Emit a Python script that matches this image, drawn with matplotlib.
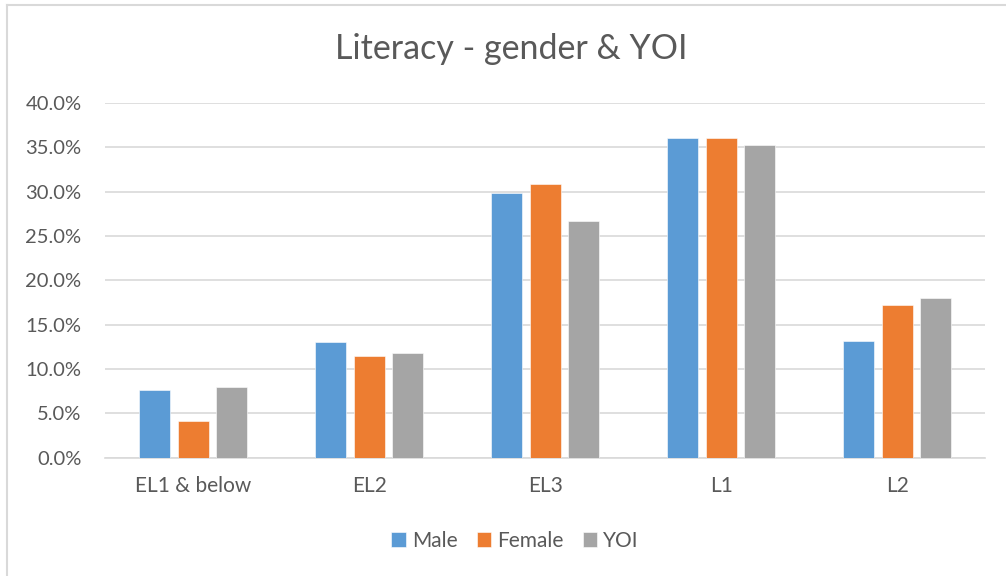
import matplotlib
matplotlib.use("Agg")
import matplotlib.pyplot as plt
import numpy as np
from matplotlib.ticker import PercentFormatter

categories = ["EL1 & below", "EL2", "EL3", "L1", "L2"]
series_names = ["Male", "Female", "YOI"]
male = [7.6, 13.0, 29.9, 36.1, 13.2]
female = [4.15, 11.5, 30.9, 36.0, 17.2]
yoi = [8.0, 11.75, 26.7, 35.3, 18.0]
colors = ["#5B9BD5", "#ED7D31", "#A5A5A5"]

plt.rcParams["font.family"] = ["Lato", "DejaVu Sans"]

fig = plt.figure(figsize=(10.06, 5.76), dpi=100)
ax = fig.add_axes([0.1044, 0.2057, 0.875, 0.6155])

x = np.arange(len(categories))
w = 0.176
step = 0.22
for i, (vals, name) in enumerate(zip([male, female, yoi], series_names)):
    ax.bar(x + (i - 1) * step, np.array(vals) / 100, width=w, color=colors[i],
           label=name, edgecolor="white", linewidth=0.4, zorder=3)

ax.set_xlim(-0.5, len(categories) - 0.5)
ax.set_ylim(0, 0.4)
ax.set_yticks(np.arange(0, 0.41, 0.05))
ax.yaxis.set_major_formatter(PercentFormatter(1.0, decimals=1))
ax.set_xticks(x)
ax.set_xticklabels(categories)
ax.grid(axis="y", color="#D9D9D9", linewidth=1.2, zorder=0)
for s in ["top", "right", "left"]:
    ax.spines[s].set_visible(False)
ax.spines["bottom"].set_color("#D9D9D9")
ax.spines["bottom"].set_linewidth(1.2)
ax.tick_params(axis="both", length=0, colors="#595959", labelsize=15)
ax.tick_params(axis="y", labelsize=14.5, pad=17)
ax.tick_params(axis="x", pad=13)

fig.text(0.508, 0.915, "Literacy - gender & YOI", ha="center", va="center",
         fontsize=24.5, color="#595959")

ax.legend(loc="center", bbox_to_anchor=(0.466, -0.235), ncol=3, frameon=False,
          fontsize=15, handlelength=0.7, handleheight=0.7, handletextpad=0.3,
          columnspacing=0.9, labelcolor="#595959")

# chart frame (left and top edges visible)
fig.add_artist(plt.Line2D([7 / 1006, 7 / 1006], [0, 1 - 5 / 576], color="#D9D9D9", lw=1.5))
fig.add_artist(plt.Line2D([7 / 1006, 1], [1 - 5 / 576, 1 - 5 / 576], color="#D9D9D9", lw=1.5))

fig.savefig("out.png", dpi=100)
